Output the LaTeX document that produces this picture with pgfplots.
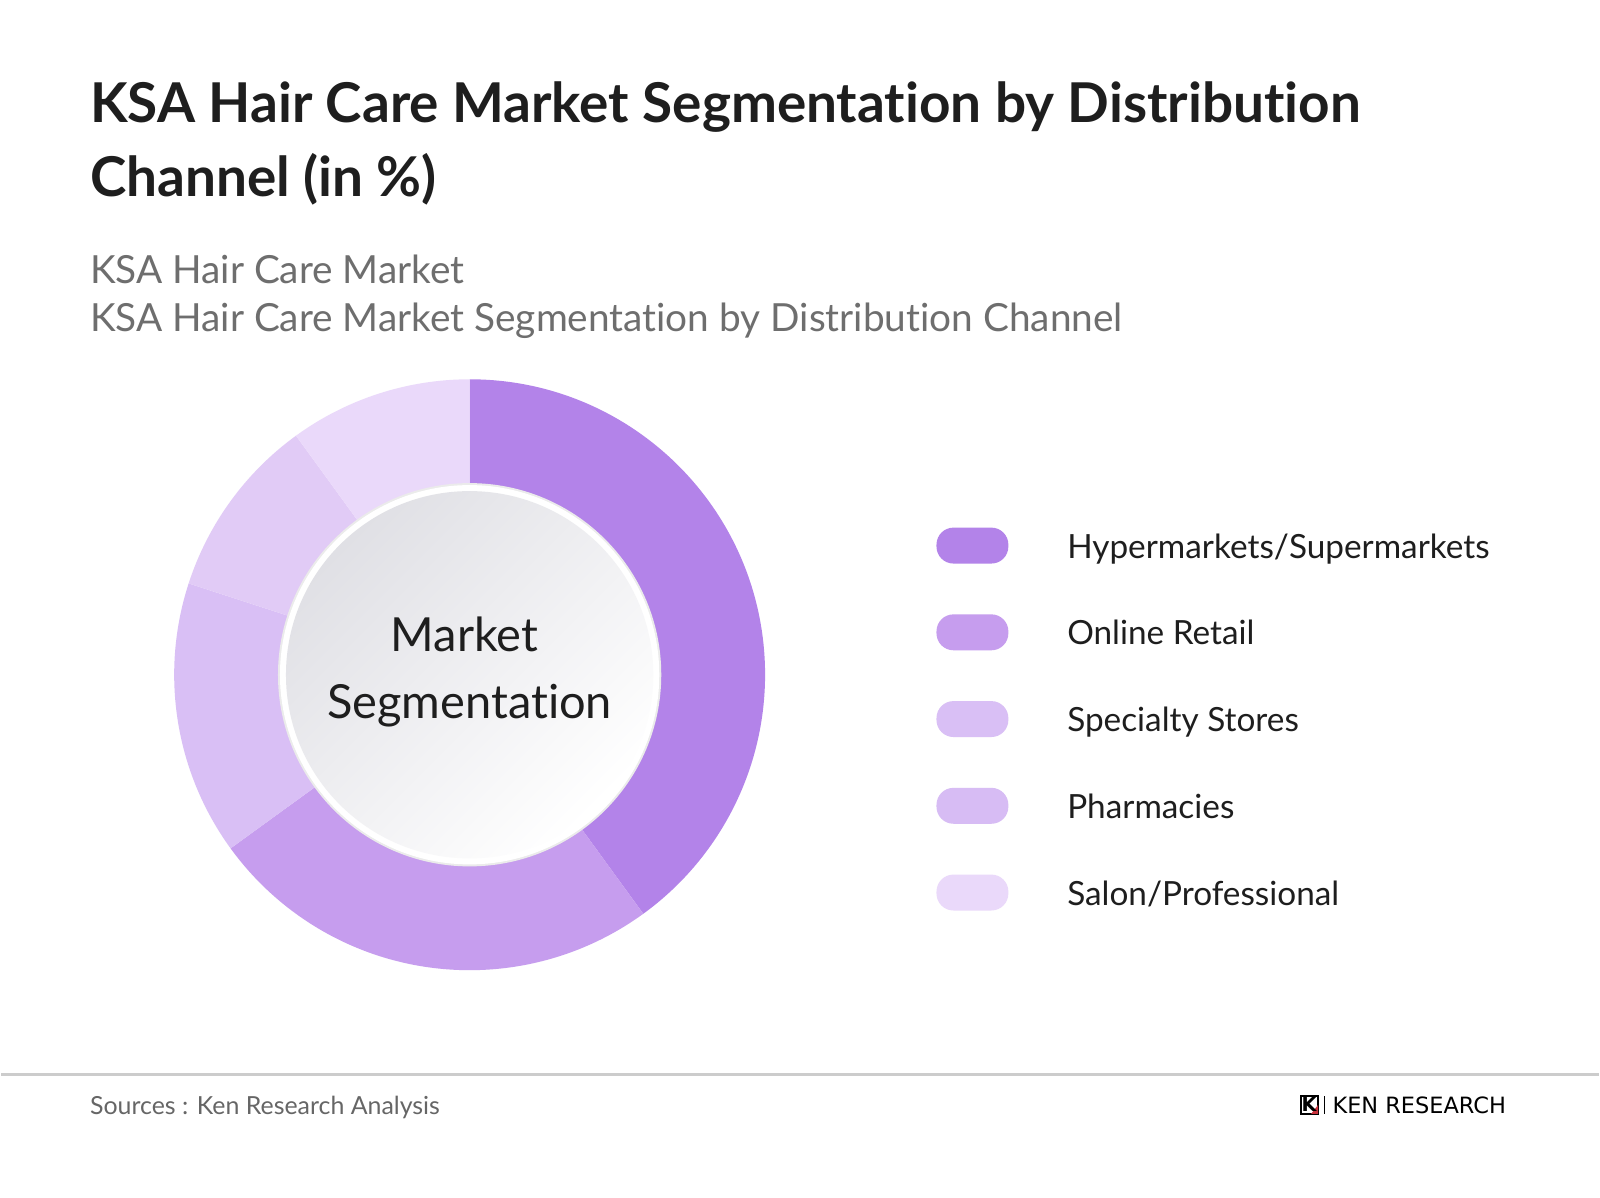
\documentclass[border=0pt]{standalone}
\usepackage{fontspec}
\setmainfont{Lato}[Ligatures=CommonOff]
\newfontfamily\logofont{DejaVu Sans}
\usepackage{pgfplots}
\pgfplotsset{compat=1.18}
\usepackage{pgfplotstable}
\usetikzlibrary{calc}

\definecolor{seg0}{HTML}{B383E9}
\definecolor{seg1}{HTML}{C69DEE}
\definecolor{seg2}{HTML}{D9BFF5}
\definecolor{seg3}{HTML}{E1CBF6}
\definecolor{seg4}{HTML}{EAD9FA}
\definecolor{titlecol}{HTML}{1E1E1E}
\definecolor{subcol}{HTML}{6E6E6E}
\definecolor{footcol}{HTML}{666666}
\definecolor{rulecol}{HTML}{CCCCCC}
\definecolor{logored}{HTML}{C8323C}
\definecolor{discgray}{HTML}{E0E0E5}

% share of each channel, in %
\pgfplotstableread[col sep=comma]{
channel,share
Hypermarkets/Supermarkets,40
Online Retail,25
Specialty Stores,15
Pharmacies,10
Salon/Professional,10
}\shares

\begin{document}
\begin{tikzpicture}
\fill[white] (0,0) rectangle (16,12);

% start/end angles of the wedges, clockwise from the top
\def\cum{0}
\pgfplotsforeachungrouped \i in {0,...,4}{%
  \pgfplotstablegetelem{\i}{share}\of\shares
  \pgfmathsetmacro\a{90-3.6*\cum}%
  \pgfmathsetmacro\cum{\cum+\pgfplotsretval}%
  \pgfmathsetmacro\b{90-3.6*\cum}%
  \expandafter\xdef\csname angA\i\endcsname{\a}%
  \expandafter\xdef\csname angB\i\endcsname{\b}%
}

% titles
\node[anchor=base west, inner sep=0pt, text=titlecol, font=\fontsize{15.65}{20}\selectfont\bfseries]
  at (0.88,10.777) {KSA Hair Care Market Segmentation by Distribution};
\node[anchor=base west, inner sep=0pt, text=titlecol, font=\fontsize{15.65}{20}\selectfont\bfseries]
  at (0.88,10.033) {Channel (in \%)};
\node[anchor=base west, inner sep=0pt, text=subcol, font=\fontsize{11.05}{14}\selectfont]
  at (0.88,9.157) {KSA Hair Care Market};
\node[anchor=base west, inner sep=0pt, text=subcol, font=\fontsize{11.05}{14}\selectfont]
  at (0.88,8.683) {KSA Hair Care Market Segmentation by Distribution Channel};

\begin{axis}[
  at={(4.69cm,5.24cm)}, anchor=center,
  hide axis, scale only axis,
  x=2.96cm, y=2.96cm,
  xmin=-1, xmax=1, ymin=-1, ymax=1,
  clip=false,
  legend image code/.code={\fill[#1,rounded corners=0.17cm] (0cm,-0.18cm) rectangle (0.72cm,0.18cm);},
  legend cell align=left,
  legend style={draw=none, fill=none, at={(1.2889,0.4250)}, anchor=west,
    inner sep=0pt, row sep=0.488cm, column sep=0.59cm,
    font=\fontsize{9.5}{11}\selectfont, text=titlecol,
    nodes={inner sep=0pt, text height=0.9em, text depth=0.184em}},
]
\pgfplotsinvokeforeach{0,...,4}{
  \fill[seg#1] ($(axis cs:0,0)+(\csname angA#1\endcsname:2.96cm)$)
    arc[start angle=\csname angA#1\endcsname, end angle=\csname angB#1\endcsname, radius=2.96cm]
    -- ($(axis cs:0,0)+(\csname angB#1\endcsname:1.91cm)$)
    arc[start angle=\csname angB#1\endcsname, end angle=\csname angA#1\endcsname, radius=1.91cm]
    -- cycle;
}
% centre disc
\fill[black!8] (axis cs:0,0) circle[radius=1.92cm];
\fill[white] (axis cs:0,0) circle[radius=1.90cm];
\shade[top color=discgray, bottom color=white, shading angle=45] (axis cs:0,0) circle[radius=1.84cm];
\node[anchor=base, inner sep=0pt, xshift=-0.05cm, yshift=0.23cm, text=titlecol, font=\fontsize{13.4}{16}\selectfont]
  at (axis cs:0,0) {Market};
\node[anchor=base, inner sep=0pt, yshift=-0.437cm, text=titlecol, font=\fontsize{13.4}{16}\selectfont]
  at (axis cs:0,0) {Segmentation};

\addlegendimage{fill=seg0, draw=none}
\addlegendentry{Hypermarkets/Supermarkets}
\addlegendimage{fill=seg1, draw=none}
\addlegendentry{Online Retail}
\addlegendimage{fill=seg2, draw=none}
\addlegendentry{Specialty Stores}
\addlegendimage{fill=seg2!92!seg1, draw=none}
\addlegendentry{Pharmacies}
\addlegendimage{fill=seg4, draw=none}
\addlegendentry{Salon/Professional}
\end{axis}

% footer
\draw[rulecol, line width=0.03cm] (0,1.235) -- (16,1.235);
\node[anchor=base west, inner sep=0pt, text=footcol, font=\fontsize{7.1}{9}\selectfont]
  at (0.88,0.835) {Sources : Ken Research Analysis};
\draw[black, line width=0.02cm] (13.02,0.84) rectangle (13.19,1.02);
\fill[logored] (13.12,0.84) -- (13.19,0.84) -- (13.19,0.93) -- cycle;
\node[anchor=base, inner sep=0pt, font=\logofont\bfseries\fontsize{5.5}{6}\selectfont] at (13.1,0.86) {K};
\draw[black, line width=0.012cm] (13.255,0.84) -- (13.255,1.02);
\node[anchor=base east, inner sep=0pt, font=\logofont\fontsize{6.4}{7}\selectfont] at (15.08,0.84) {KEN RESEARCH};
\end{tikzpicture}
\end{document}
